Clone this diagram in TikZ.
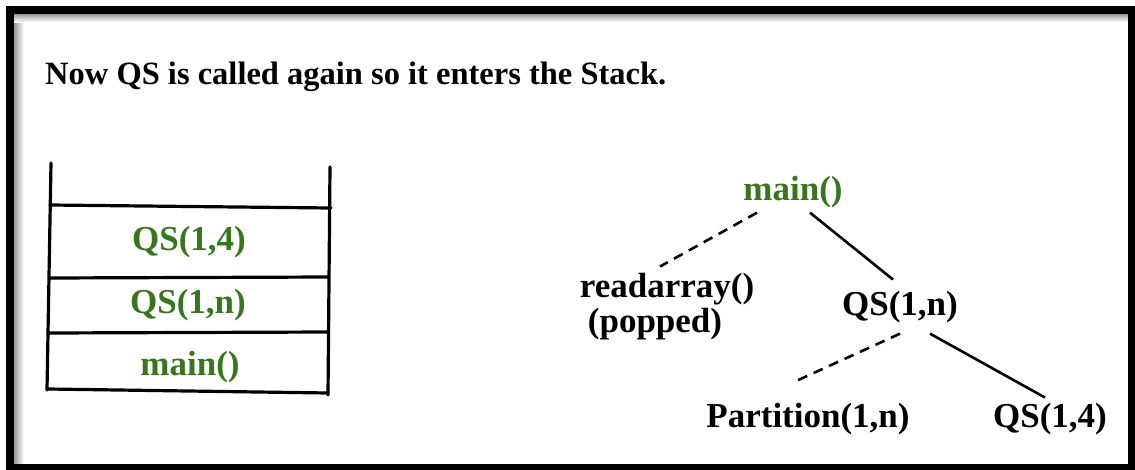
\documentclass[tikz,border=0pt]{standalone}
\usepackage{fontspec}
\setmainfont{Liberation Serif}
\usetikzlibrary{positioning}
\definecolor{callgreen}{RGB}{56,118,29}

\tikzset{
  frame/.style={line width=8pt},
  wall/.style={line width=3.2pt, line cap=round},
  call/.style={font=\bfseries\fontsize{35}{38}\selectfont, inner sep=0pt, anchor=base},
  oncall/.style={call, text=callgreen},
  edge/.style={line width=2.6pt},
  gone/.style={edge, dash pattern=on 10pt off 7pt},
}

\begin{document}
\begin{tikzpicture}[x=1pt,y=-1pt]
  \useasboundingbox (0,0) rectangle (1135,469);
  \fill[white] (0,0) rectangle (1135,469);

  % frame with its inner shadow
  \shade[left color=black!40, right color=white] (14,14) rectangle (24,464);
  \shade[top color=black!40, bottom color=white] (14,14) rectangle (1128,22);
  \draw[frame] (10,10) rectangle (1132,468);

  \node[anchor=base west, inner sep=0pt, font=\bfseries\fontsize{32.5}{36}\selectfont]
    (title) at (45,84) {Now QS is called again so it enters the Stack.};

  % Stack
  \draw[wall] (51,163) -- (47,390);
  \draw[wall] (330,167) -- (328,395);
  \draw[wall] (50,205) -- (331,208);
  \draw[wall] (50,278) -- (328,277);
  \draw[wall] (49,333) -- (328,332);
  \draw[wall] (48,389) -- (328,393);

  \node[oncall] (stkqsfour) at (189,250) {QS(1,4)};
  \node[oncall] (stkqsn) at (188,313) {QS(1,n)};
  \node[oncall] (stkmain) at (190,375) {main()};

  % Call tree
  \node[oncall] (main) at (793,200) {main()};
  \node[call] (read) at (667,297) {readarray()};
  \node[call] (readnote) at (655,332) {(popped)};
  \node[call] (qsn) at (900,315) {QS(1,n)};
  \node[call] (part) at (808,427) {Partition(1,n)};
  \node[call] (qsfour) at (1050,427) {QS(1,4)};

  \draw[gone] ([xshift=-36pt,yshift=-5pt]main.south) -- ([xshift=-7pt,yshift=6pt]read.north);
  \draw[edge] ([xshift=17pt,yshift=-5pt]main.south) -- ([xshift=-7pt,yshift=11pt]qsn.north);
  \draw[gone] ([yshift=-11pt]qsn.south) -- ([xshift=-13pt,yshift=21pt]part.north);
  \draw[edge] ([xshift=30pt,yshift=-11pt]qsn.south) -- ([xshift=-5pt,yshift=5pt]qsfour.north);
\end{tikzpicture}
\end{document}
